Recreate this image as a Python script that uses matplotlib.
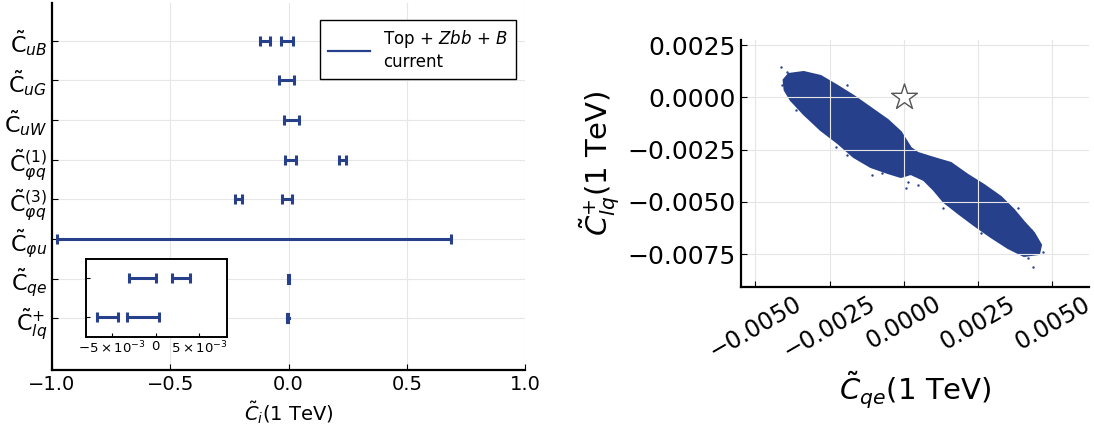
import matplotlib
matplotlib.use("Agg")
import matplotlib.pyplot as plt
from matplotlib.lines import Line2D

plt.rcParams['mathtext.fontset'] = 'dejavusans'
plt.rcParams['font.family'] = ['DejaVu Sans']

blue = '#27408B'

# coefficient labels, bottom to top
labels = [r'$\tilde{\mathrm{C}}_{lq}^{+}$', r'$\tilde{\mathrm{C}}_{qe}$', r'$\tilde{\mathrm{C}}_{\varphi u}$',
          r'$\tilde{\mathrm{C}}_{\varphi q}^{(3)}$', r'$\tilde{\mathrm{C}}_{\varphi q}^{(1)}$',
          r'$\tilde{\mathrm{C}}_{uW}$', r'$\tilde{\mathrm{C}}_{uG}$', r'$\tilde{\mathrm{C}}_{uB}$']

# allowed intervals per coefficient (lower, upper)
intervals = [
    [(-0.0067, -0.0043), (-0.0033, 0.0004)],   # lq+
    [(-0.0031, 0.0001), (0.0019, 0.0040)],     # qe
    [(-0.98, 0.688)],                          # phi u
    [(-0.225, -0.196), (-0.027, 0.014)],       # phi q (3)
    [(-0.017, 0.033), (0.213, 0.244)],         # phi q (1)
    [(-0.020, 0.045)],                         # uW
    [(-0.041, 0.022)],                         # uG
    [(-0.120, -0.080), (-0.031, 0.018)],       # uB
]

# outline of the posterior sample cloud (C_qe, C_lq+)
cloud_x = [-0.004043, -0.003874, -0.003369, -0.002796, -0.002224, -0.001685, -0.001112, -0.000539,
           -0.000101, 0.000236, 0.000472, 0.001011, 0.001583, 0.002156, 0.002695, 0.003268,
           0.003706, 0.004043, 0.00438, 0.004616, 0.004548, 0.004043, 0.003504, 0.002931,
           0.002358, 0.001819, 0.001348, 0.001011, 0.000674, 0.000236, -0.000101, -0.000539,
           -0.001112, -0.001685, -0.002224, -0.002796, -0.003369, -0.003807, -0.004009]
cloud_y = [0.000827, 0.001114, 0.001209, 0.001018, 0.00054, 0.000062, -0.000511, -0.001085,
           -0.001659, -0.002423, -0.002662, -0.002901, -0.00314, -0.003714, -0.004192, -0.004766,
           -0.005387, -0.005961, -0.006486, -0.00706, -0.00749, -0.007586, -0.007203, -0.006678,
           -0.006104, -0.00553, -0.005005, -0.004431, -0.003953, -0.003666, -0.00381, -0.003618,
           -0.003332, -0.002854, -0.002184, -0.001563, -0.000798, -0.000129, 0.000349]
# scattered samples outside the dense region
stray_x = [-0.004144, -0.003918, -0.004087, -0.003639, -0.001897, -0.002291, -0.001897, -0.001055,
           -0.000718, 0.000067, 0.001304, 0.002594, 0.004279, 0.004673, 0.004336, 0.004167,
           0.00383, 0.000125, 0.000462]
stray_y = [0.001463, 0.001224, 0.000588, -0.000607, 0.000588, -0.002361, -0.002758, -0.003714,
           -0.003633, -0.00435, -0.005306, -0.006501, -0.006343, -0.00738, -0.008097, -0.007696,
           -0.005306, -0.004034, -0.004192]

fig = plt.figure(figsize=(10.94, 4.30), dpi=100)

# ---- left panel: intervals
ax = fig.add_axes([0.0475, 0.1395, 0.4325, 0.8535])
for i, ivs in enumerate(intervals):
    if i < 2:
        continue
    for lo, hi in ivs:
        ax.errorbar([(lo + hi) / 2], [i + 1], xerr=[[(hi - lo) / 2], [(hi - lo) / 2]], fmt='none',
                    ecolor=blue, elinewidth=2.2, capsize=3.5, capthick=2.2)
# tiny intervals at this scale
for i in range(2):
    for lo, hi in intervals[i]:
        ax.plot([lo, hi], [i + 1, i + 1], color=blue, lw=2.2)
        ax.plot([lo, lo], [i + 0.9, i + 1.1], color=blue, lw=2.2)
ax.set_xlim(-1, 1)
ax.set_ylim(-0.3, 8.95)
ax.set_yticks(range(1, 9))
ax.set_yticklabels(labels, fontsize=16)
ax.set_xticks([-1, -0.5, 0, 0.5, 1])
ax.set_xticklabels(['−1.0', '−0.5', '0.0', '0.5', '1.0'], fontsize=14)
ax.set_xlabel(r'$\tilde{C}_i$(1 TeV)', fontsize=14)
ax.grid(True, color='#e6e6e6', lw=0.8)
for s in ['top', 'right']:
    ax.spines[s].set_visible(False)
for s in ['left', 'bottom']:
    ax.spines[s].set_linewidth(1.6)
ax.tick_params(direction='in', length=4, width=0.8)
ax.legend(handles=[Line2D([], [], color=blue, lw=1.6)],
          labels=['Top + $Zbb$ + $B$\ncurrent'], loc='upper right', fontsize=12,
          bbox_to_anchor=(0.981, 0.954), borderaxespad=0,
          fancybox=False, edgecolor='black', framealpha=1, borderpad=0.5, handlelength=2.5)

# ---- inset: zoom on small intervals
ins = fig.add_axes([0.0786, 0.2163, 0.1289, 0.1814])
for i in range(2):
    for lo, hi in intervals[i]:
        ins.errorbar([(lo + hi) / 2], [i + 1], xerr=[[(hi - lo) / 2], [(hi - lo) / 2]], fmt='none',
                     ecolor=blue, elinewidth=2.2, capsize=3.5, capthick=2.2)
ins.set_xlim(-0.008, 0.0082)
ins.set_ylim(0.5, 2.5)
ins.set_yticks([1, 2])
ins.set_yticklabels([])
ins.set_xticks([-0.005, 0, 0.005])
ins.set_xticklabels([r'$-5\times10^{-3}$', '0', r'$5\times10^{-3}$'], fontsize=9.5)
ins.tick_params(direction='in', length=3, pad=2)
for s in ins.spines.values():
    s.set_linewidth(1.4)

# ---- right panel: correlation
ax2 = fig.add_axes([0.677, 0.3326, 0.3184, 0.5744])
ax2.fill(cloud_x, cloud_y, color=blue, lw=1.5, ec=blue)
ax2.scatter(stray_x, stray_y, s=3, color=blue, lw=0)
ax2.scatter([0], [0], marker='*', s=380, facecolor='white', edgecolor='#555555', lw=1, zorder=3)
ax2.set_xlim(-0.00549, 0.00623)
ax2.set_ylim(-0.00907, 0.00274)
ax2.set_xticks([-0.005, -0.0025, 0, 0.0025, 0.005])
ax2.set_xticklabels(['−0.0050', '−0.0025', '0.0000', '0.0025', '0.0050'], fontsize=17, rotation=30)
ax2.set_yticks([0.0025, 0, -0.0025, -0.005, -0.0075])
ax2.set_yticklabels(['0.0025', '0.0000', '−0.0025', '−0.0050', '−0.0075'], fontsize=18)
ax2.set_xlabel(r'$\tilde{C}_{qe}$(1 TeV)', fontsize=21)
ax2.set_ylabel(r'$\tilde{C}_{lq}^{+}$(1 TeV)', fontsize=21)
ax2.grid(True, color='#e6e6e6', lw=0.8)
for s in ['top', 'right']:
    ax2.spines[s].set_visible(False)
for s in ['left', 'bottom']:
    ax2.spines[s].set_linewidth(1.6)
ax2.tick_params(direction='in', length=4, width=0.8)

fig.savefig('out.png', dpi=100)
